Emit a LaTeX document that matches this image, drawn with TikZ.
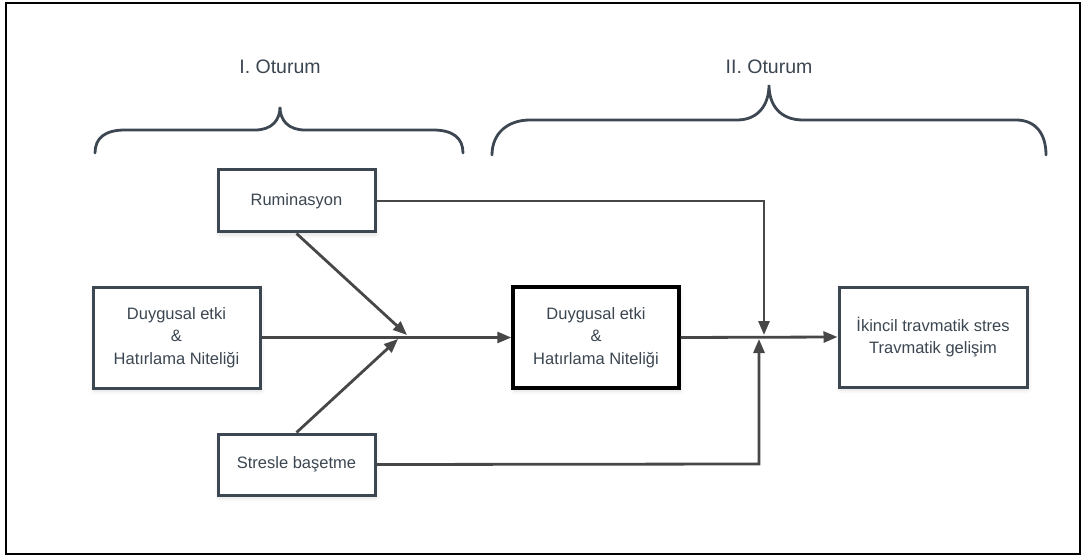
\documentclass[tikz,border=0pt]{standalone}
\usepackage{fontspec}
\setmainfont{Liberation Sans}
\usetikzlibrary{arrows.meta,shadows.blur}
\definecolor{txt}{HTML}{3B4651}
\definecolor{bord}{HTML}{3D4752}
\definecolor{arr}{HTML}{474747}
\begin{document}
\begin{tikzpicture}[x=1pt,y=-1pt,
  box/.style={draw=bord,line width=3pt,fill=white,text=txt,align=center,
    inner sep=0pt,font=\fontsize{16.5}{22.5}\selectfont,
    blur shadow={shadow xshift=1pt,shadow yshift=-3pt,shadow blur radius=4pt,shadow opacity=12}},
  conn/.style={draw=arr,line width=2.8pt,-{Triangle[length=14pt,width=11pt]}},
  brace/.style={draw=bord,line width=2.8pt,line cap=round},
  lbl/.style={text=txt,font=\fontsize{19.5}{22}\selectfont,inner sep=0pt}]
\useasboundingbox (0,0) rectangle (1082,556);
\draw[line width=1.8pt,black] (6,3) rectangle (1080,554);
% labels
\node[lbl] (l1) at (280,67) {I. Oturum};
\node[lbl] (l2) at (769,67) {II. Oturum};
% braces
\draw[brace] (95,153) .. controls (95,138) and (105,130) .. (125,130) -- (255,130)
  .. controls (272,130) and (280,120) .. (280,107)
  .. controls (280,120) and (288,130) .. (305,130) -- (433,130)
  .. controls (453,130) and (463,138) .. (463,153);
\draw[brace] (492,155) .. controls (492,133) and (508,120) .. (530,120) -- (737,120)
  .. controls (758,120) and (769,105) .. (769,85)
  .. controls (769,105) and (780,120) .. (803,120) -- (1016,120)
  .. controls (1035,120) and (1046,133) .. (1046,155);
% nodes
\node[box,minimum width=157pt,minimum height=62pt] (rum) at (296.5,201) {Ruminasyon};
\node[box,minimum width=167pt,minimum height=101pt] (left) at (176.5,337.5) {Duygusal etki\\\&\\Hatırlama Niteliği};
\node[box,minimum width=157pt,minimum height=61pt] (str) at (296.5,464.5) {Stresle başetme};
\node[box,draw=black,line width=3.4pt,minimum width=166pt,minimum height=101pt] (mid) at (596,337.5) {Duygusal etki\\\&\\Hatırlama Niteliği};
\node[box,minimum width=188pt,minimum height=100pt] (right) at (933,337) {İkincil travmatik stres\\Travmatik gelişim};
% junction coordinates
\coordinate (j1a) at (407,335);
\coordinate (j1b) at (398,339);
\coordinate (c1) at (764,201);
\coordinate (j2a) at (764,335);
\coordinate (c2) at (759,464);
\coordinate (j2b) at (759,339);
% connectors
\draw[conn] (left.east) -- (mid.west);
\draw[conn] (mid.east) -- (right.west);
\draw[conn] (rum.south) -- (j1a);
\draw[conn] (str.north) -- (j1b);
\draw[conn] (rum.east) -- (c1) -- (j2a);
\draw[conn] (str.east) -- (c2) -- (j2b);
\end{tikzpicture}
\end{document}
